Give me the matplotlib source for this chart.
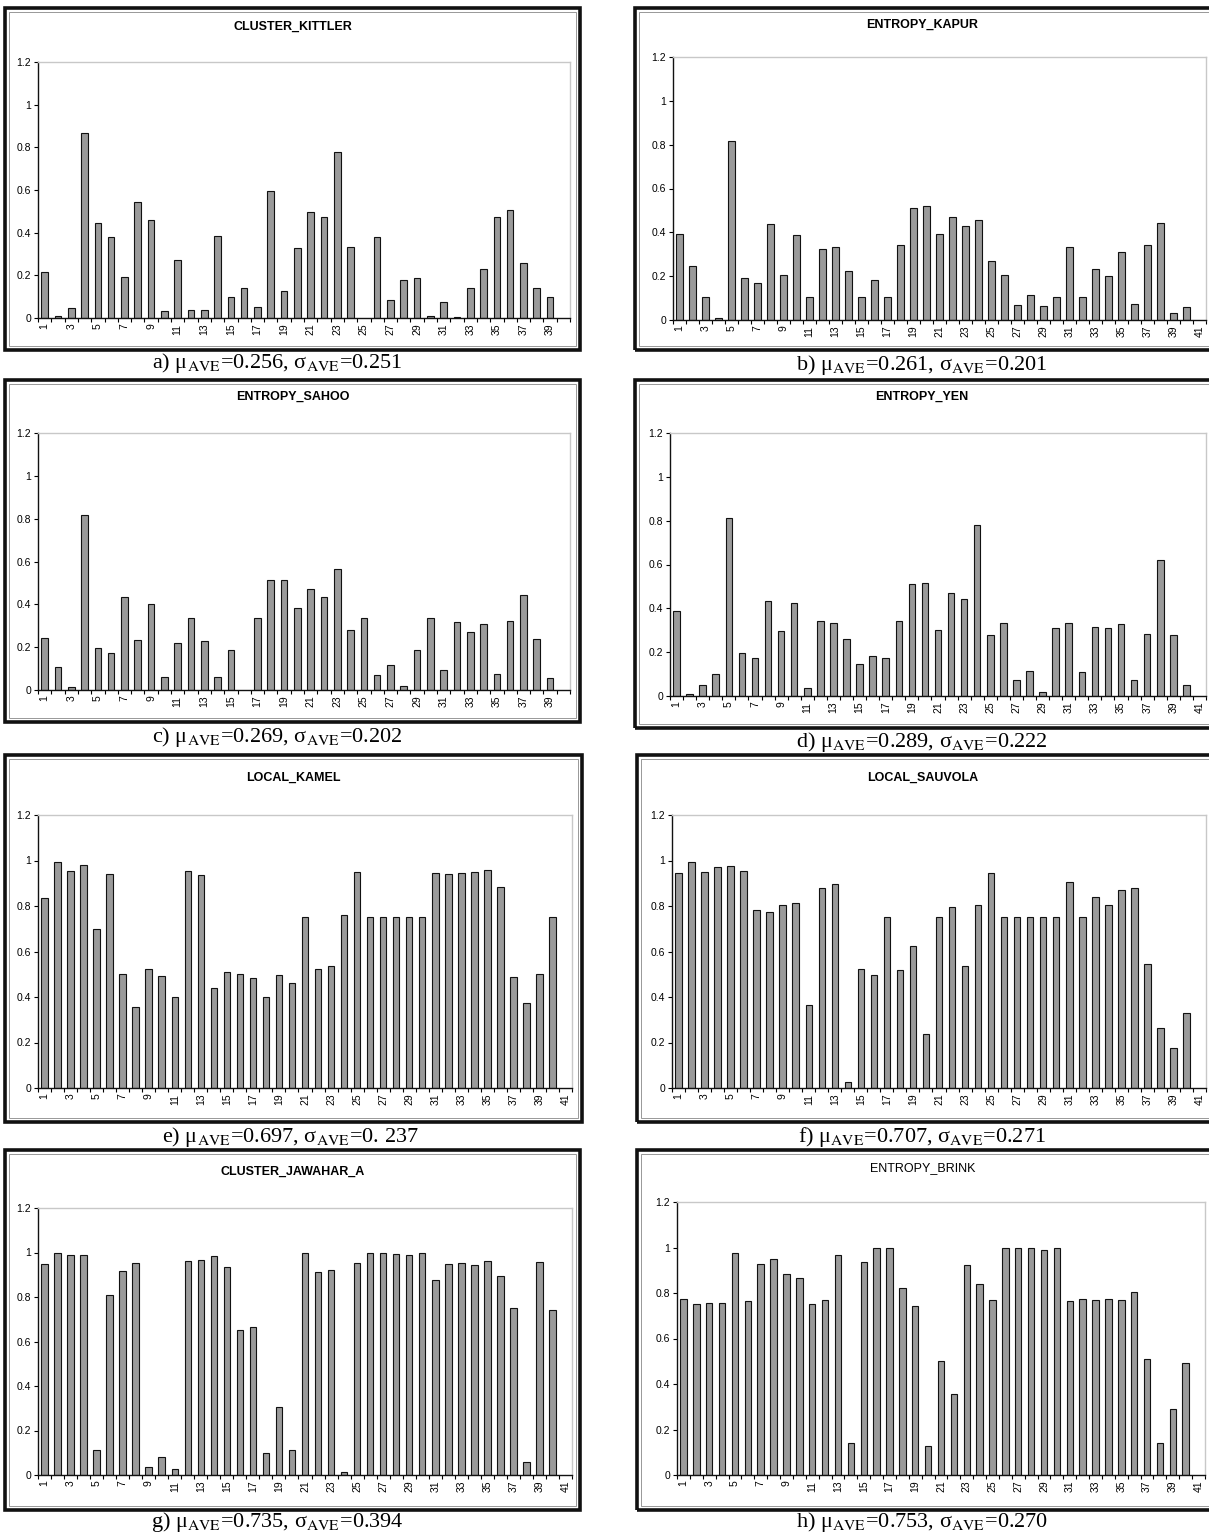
import matplotlib
matplotlib.use("Agg")

import numpy as np
import matplotlib.pyplot as plt
from matplotlib.patches import Rectangle

plt.rcParams["font.family"] = ["Liberation Sans", "DejaVu Sans"]
plt.rcParams["mathtext.fontset"] = "stix"

# ---- data ----
titles = ["CLUSTER_KITTLER", "ENTROPY_KAPUR", "ENTROPY_SAHOO", "ENTROPY_YEN",
          "LOCAL_KAMEL", "LOCAL_SAUVOLA", "CLUSTER_JAWAHAR_A", "ENTROPY_BRINK"]
captions = [
    r"a) μ$_{\rm AVE}$=0.256, σ$_{\rm AVE}$=0.251",
    r"b) μ$_{\rm AVE}$=0.261, σ$_{\rm AVE}$=0.201",
    r"c) μ$_{\rm AVE}$=0.269, σ$_{\rm AVE}$=0.202",
    r"d) μ$_{\rm AVE}$=0.289, σ$_{\rm AVE}$=0.222",
    r"e) μ$_{\rm AVE}$=0.697, σ$_{\rm AVE}$=0. 237",
    r"f) μ$_{\rm AVE}$=0.707, σ$_{\rm AVE}$=0.271",
    r"g) μ$_{\rm AVE}$=0.735, σ$_{\rm AVE}$=0.394",
    r"h) μ$_{\rm AVE}$=0.753, σ$_{\rm AVE}$=0.270",
]

kittler = [0.216, 0.01, 0.045, 0.866, 0.444, 0.38, 0.193, 0.544, 0.458, 0.031,
           0.27, 0.036, 0.039, 0.386, 0.097, 0.141, 0.052, 0.596, 0.125, 0.326,
           0.497, 0.472, 0.78, 0.333, 0.0, 0.381, 0.085, 0.176, 0.187, 0.009,
           0.074, 0.006, 0.141, 0.229, 0.472, 0.507, 0.257, 0.141, 0.097, 0.0]
kapur = [0.391, 0.245, 0.106, 0.009, 0.815, 0.192, 0.17, 0.437, 0.204, 0.386,
         0.106, 0.323, 0.333, 0.225, 0.103, 0.182, 0.103, 0.34, 0.51, 0.518,
         0.391, 0.47, 0.429, 0.458, 0.268, 0.204, 0.069, 0.115, 0.064, 0.106,
         0.334, 0.106, 0.231, 0.199, 0.31, 0.072, 0.342, 0.441, 0.034, 0.058, 0.0]
sahoo = [0.245, 0.109, 0.012, 0.816, 0.195, 0.173, 0.436, 0.234, 0.403, 0.059,
         0.219, 0.334, 0.227, 0.059, 0.186, 0.0, 0.336, 0.514, 0.514, 0.383,
         0.473, 0.434, 0.567, 0.281, 0.334, 0.07, 0.116, 0.019, 0.187, 0.334,
         0.094, 0.316, 0.273, 0.308, 0.075, 0.32, 0.444, 0.236, 0.056, 0.0]
yen = [0.389, 0.008, 0.049, 0.101, 0.814, 0.196, 0.173, 0.435, 0.296, 0.425,
       0.038, 0.342, 0.334, 0.262, 0.147, 0.184, 0.173, 0.342, 0.51, 0.516,
       0.299, 0.47, 0.443, 0.782, 0.28, 0.334, 0.072, 0.116, 0.018, 0.311,
       0.334, 0.109, 0.314, 0.308, 0.33, 0.075, 0.282, 0.622, 0.277, 0.052, 0.0]
kamel = [0.835, 0.994, 0.956, 0.981, 0.697, 0.94, 0.503, 0.357, 0.522, 0.493,
         0.401, 0.956, 0.937, 0.438, 0.509, 0.499, 0.484, 0.401, 0.496, 0.462,
         0.753, 0.525, 0.538, 0.76, 0.949, 0.75, 0.75, 0.753, 0.753, 0.75,
         0.944, 0.94, 0.944, 0.949, 0.959, 0.884, 0.487, 0.372, 0.5, 0.753, 0.0]
sauvola = [0.944, 0.994, 0.948, 0.971, 0.978, 0.956, 0.784, 0.772, 0.806, 0.813,
           0.364, 0.879, 0.898, 0.028, 0.523, 0.495, 0.75, 0.517, 0.626, 0.237,
           0.753, 0.795, 0.538, 0.803, 0.944, 0.75, 0.75, 0.753, 0.753, 0.75,
           0.907, 0.753, 0.839, 0.806, 0.87, 0.879, 0.546, 0.262, 0.177, 0.33, 0.0]
jawahar = [0.949, 0.997, 0.987, 0.987, 0.114, 0.807, 0.918, 0.952, 0.038, 0.081,
           0.027, 0.96, 0.967, 0.984, 0.937, 0.653, 0.664, 0.101, 0.306, 0.113,
           0.997, 0.912, 0.922, 0.014, 0.952, 0.997, 1.0, 0.994, 0.99, 0.997,
           0.877, 0.949, 0.952, 0.942, 0.964, 0.894, 0.749, 0.06, 0.957, 0.743, 0.0]
brink = [0.775, 0.752, 0.755, 0.755, 0.974, 0.764, 0.928, 0.95, 0.883, 0.866,
         0.752, 0.771, 0.968, 0.14, 0.936, 0.996, 0.996, 0.82, 0.743, 0.127,
         0.502, 0.356, 0.923, 0.838, 0.771, 0.996, 1.0, 0.996, 0.987, 0.996,
         0.764, 0.775, 0.771, 0.775, 0.768, 0.803, 0.512, 0.14, 0.292, 0.493, 0.0]

series = [kittler, kapur, sahoo, yen, kamel, sauvola, jawahar, brink]

# ---- layout in pixels ----
W, H = 1209, 1535
boxes = [(5, 8, 580, 350), (635, 8, 1214, 350),
         (5, 380, 580, 722), (635, 380, 1214, 728),
         (5, 755, 582, 1122), (637, 755, 1214, 1122),
         (5, 1150, 580, 1510), (637, 1150, 1214, 1510)]
plots = [(38, 62, 570, 318), (673, 57, 1206, 320),
         (38, 433, 570, 690), (670, 433, 1206, 696),
         (38, 815, 572, 1088), (672, 815, 1206, 1088),
         (38, 1208, 572, 1475), (677, 1202, 1205, 1475)]
title_y = [27, 25, 397, 397, 778, 778, 1172, 1168]
cap_pos = [(277, 363), (922, 365), (277, 737), (922, 742),
           (290, 1137), (922, 1137), (277, 1522), (922, 1522)]

fig = plt.figure(figsize=(W / 100, H / 100), dpi=100)


def frac_rect(x0, y0, x1, y1):
    return [x0 / W, 1 - y1 / H, (x1 - x0) / W, (y1 - y0) / H]


for i in range(8):
    vals = np.array(series[i])
    n = len(vals)
    cats = np.arange(1, n + 1)

    # panel frame
    bx0, by0, bx1, by1 = boxes[i]
    fig.patches.append(Rectangle((bx0 / W, 1 - by1 / H), (bx1 - bx0) / W, (by1 - by0) / H,
                                 transform=fig.transFigure, fill=False,
                                 edgecolor="#111111", linewidth=2.6))
    fig.patches.append(Rectangle(((bx0 + 4) / W, 1 - (by1 - 4) / H), (bx1 - bx0 - 8) / W,
                                 (by1 - by0 - 8) / H, transform=fig.transFigure,
                                 fill=False, edgecolor="#888888", linewidth=0.6))

    ax = fig.add_axes(frac_rect(*plots[i]))
    mask = vals > 0
    ax.bar(cats[mask], vals[mask], width=0.5, color="#9a9a9a",
           edgecolor="#111111", linewidth=0.8)
    ax.set_xlim(0.5, n + 0.5)
    ax.set_ylim(0, 1.2)

    ax.set_yticks(np.arange(0, 1.21, 0.2))
    ax.set_yticklabels(["0", "0.2", "0.4", "0.6", "0.8", "1", "1.2"])
    ax.set_xticks(cats[::2])
    ax.set_xticklabels([str(c) for c in cats[::2]], rotation=90)
    ax.set_xticks(np.arange(0.5, n + 1, 1), minor=True)
    ax.tick_params(axis="x", which="major", length=0, labelsize=7.5, pad=4)
    ax.tick_params(axis="x", which="minor", length=3, width=0.8)
    ax.tick_params(axis="y", length=3, width=0.8, labelsize=7.5, pad=2)

    ax.spines["left"].set_color("#111111")
    ax.spines["bottom"].set_color("#111111")
    ax.spines["top"].set_color("#c8c8c8")
    ax.spines["right"].set_color("#c8c8c8")
    for s in ax.spines.values():
        s.set_linewidth(1.0)

    cx = ((bx0 + min(bx1, W)) / 2) / W
    fig.text(cx, 1 - title_y[i] / H, titles[i], ha="center", va="center",
             fontsize=9, fontweight="normal" if i == 7 else "bold")

    fig.text(cap_pos[i][0] / W, 1 - cap_pos[i][1] / H, captions[i],
             ha="center", va="center", fontsize=16, family="Liberation Serif")

fig.savefig("out.png", dpi=100, facecolor="white")
plt.close(fig)
